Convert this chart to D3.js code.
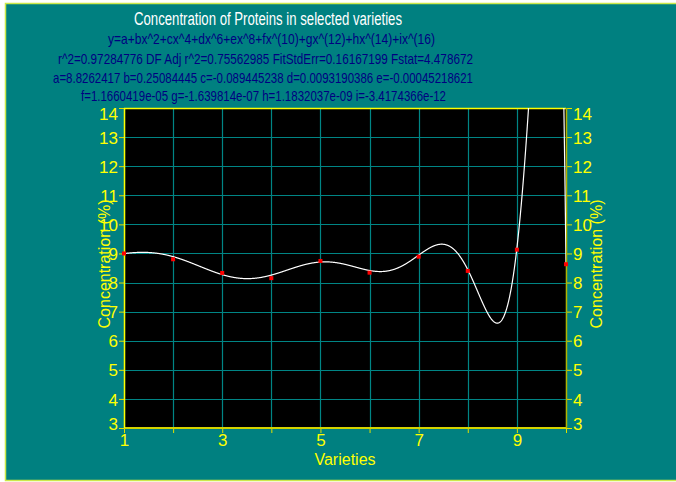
<!DOCTYPE html>
<html>
<head>
<meta charset="utf-8">
<script src="https://cdn.jsdelivr.net/npm/d3@7"></script>
<style>
  body { margin: 0; background: #ffffff; }
  svg text { font-family: "Liberation Sans", Arial, sans-serif; }
</style>
</head>
<body>
<div class="chart"></div>
<script>
// measured points (variety, protein %)
var varieties = [1, 2, 3, 4, 5, 6, 7, 8, 9, 10];
var protein = [9.0, 8.8, 8.33, 8.15, 8.74, 8.34, 8.89, 8.4, 9.13, 8.63];

// fit coefficients printed in the header: y = sum coef[k] * x^(2k)
var coefNames = ["a", "b", "c", "d", "e", "f", "g", "h", "i"];
var coefs = [8.8262417, 0.25084445, -0.089445238, 0.0093190386, -0.00045218621,
             1.1660419e-05, -1.639814e-07, 1.1832037e-09, -3.4174366e-12];

var xTicks = [1, 2, 3, 4, 5, 6, 7, 8, 9, 10];
var xLabels = [1, 3, 5, 7, 9];
var yTicks = [3, 4, 5, 6, 7, 8, 9, 10, 11, 12, 13, 14];

var titleText = "Concentration of Proteins in selected varieties";
var headerLines = [
    "y=a+bx^2+cx^4+dx^6+ex^8+fx^(10)+gx^(12)+hx^(14)+ix^(16)",
    "r^2=0.97284776  DF Adj r^2=0.75562985  FitStdErr=0.16167199  Fstat=4.478672",
    "a=8.8262417 b=0.25084445 c=-0.089445238 d=0.0093190386 e=-0.00045218621",
    "f=1.1660419e-05 g=-1.639814e-07 h=1.1832037e-09 i=-3.4174366e-12"
];

var W = 676, H = 482;
var margin = { top: 108, right: 110, bottom: 54, left: 124 };
var width = W - margin.left - margin.right;   // 442
var height = H - margin.top - margin.bottom;  // 320

var svg = d3.select(".chart").append("svg")
    .attr("width", W)
    .attr("height", H);

// teal frame
svg.append("rect")
    .attr("x", 5.5).attr("y", 3.5)
    .attr("width", W).attr("height", 477)
    .attr("fill", "#008080")
    .attr("stroke", "#cce84a")
    .attr("stroke-width", 1.5);

// header text (condensed look -> textLength)
svg.append("text")
    .attr("x", 134).attr("y", 25)
    .attr("textLength", 268).attr("lengthAdjust", "spacingAndGlyphs")
    .style("font-size", "18px").attr("fill", "#ffffff")
    .text(titleText);

var hdr = [
    { x: 108, w: 327, y: 44 },
    { x: 58, w: 415, y: 63.5 },
    { x: 53, w: 420, y: 82.5 },
    { x: 81, w: 365, y: 101 }
];
svg.selectAll(".hdr")
    .data(headerLines)
    .enter().append("text")
    .attr("class", "hdr")
    .attr("x", function (d, i) { return hdr[i].x; })
    .attr("y", function (d, i) { return hdr[i].y; })
    .attr("textLength", function (d, i) { return hdr[i].w; })
    .attr("lengthAdjust", "spacingAndGlyphs")
    .style("font-size", "15px")
    .attr("fill", "#000080")
    .text(function (d) { return d; });

var g = svg.append("g")
    .attr("transform", "translate(" + margin.left + "," + margin.top + ")");

var x = d3.scaleLinear().domain([1, 10]).range([0, width]);
var y = d3.scaleLinear().domain([3, 14]).range([height, 0]);

g.append("rect")
    .attr("width", width).attr("height", height)
    .attr("fill", "#000000");

g.append("clipPath").attr("id", "plotclip")
    .append("rect").attr("width", width).attr("height", height);

// grid
g.selectAll(".vgrid")
    .data(xTicks)
    .enter().append("line")
    .attr("x1", function (d) { return Math.round(x(d)) + 0.5; })
    .attr("x2", function (d) { return Math.round(x(d)) + 0.5; })
    .attr("y1", 0).attr("y2", height)
    .attr("stroke", "#008585").attr("stroke-width", 1.2);

g.selectAll(".hgrid")
    .data(yTicks)
    .enter().append("line")
    .attr("y1", function (d) { return Math.round(y(d)) + 0.5; })
    .attr("y2", function (d) { return Math.round(y(d)) + 0.5; })
    .attr("x1", 0).attr("x2", width)
    .attr("stroke", "#008585").attr("stroke-width", 1.2);

// axes
var xAxisCall = d3.axisBottom(x)
    .tickValues(xTicks)
    .tickSize(5)
    .tickPadding(2)
    .tickFormat(function (d) { return xLabels.indexOf(d) >= 0 ? d : ""; });

var xg = g.append("g")
    .attr("transform", "translate(0," + height + ")")
    .call(xAxisCall);

var yLeft = g.append("g").call(d3.axisLeft(y).tickValues(yTicks).tickSize(5).tickPadding(1));
var yRight = g.append("g")
    .attr("transform", "translate(" + width + ",0)")
    .call(d3.axisRight(y).tickValues(yTicks).tickSize(6).tickPadding(1));

[xg, yLeft, yRight].forEach(function (ax) {
    ax.select(".domain").remove();
    ax.selectAll("line").attr("stroke", "#e0e000");
    ax.selectAll("text")
        .attr("fill", "#ffff00")
        .style("font-size", "17px")
        .style("font-family", "'Liberation Sans', Arial, sans-serif");
});
// end labels are pulled inside the axis range, as in the original
[yLeft, yRight].forEach(function (ax) {
    ax.selectAll("text").attr("dy", function (d) {
        return d === 14 ? "0.66em" : (d === 3 ? "0.1em" : "0.36em");
    });
});
xg.selectAll("text").attr("dy", "0.62em");

// axis frame lines
g.append("line").attr("x1", 0).attr("x2", width).attr("y1", 0.5).attr("y2", 0.5)
    .attr("stroke", "#ffff00").attr("stroke-width", 1.5);
g.append("line").attr("x1", 0).attr("x2", width).attr("y1", height).attr("y2", height)
    .attr("stroke", "#d4d400").attr("stroke-width", 2);
g.append("line").attr("x1", 0.5).attr("x2", 0.5).attr("y1", 0).attr("y2", height)
    .attr("stroke", "#ffff00").attr("stroke-width", 1.5);
g.append("line").attr("x1", width + 0.5).attr("x2", width + 0.5).attr("y1", 0).attr("y2", height)
    .attr("stroke", "#b4b400").attr("stroke-width", 1.5);

// fitted curve from the printed coefficients
function fit(v) {
    var s = 0;
    for (var k = 0; k < coefs.length; k++) s += coefs[k] * Math.pow(v, 2 * k);
    return s;
}
var curveX = d3.range(1, 10.0001, 0.004);
var line = d3.line()
    .x(function (d) { return x(d); })
    .y(function (d) { return y(fit(d)); });

g.append("path")
    .datum(curveX)
    .attr("clip-path", "url(#plotclip)")
    .attr("fill", "none")
    .attr("stroke", "#ffffff")
    .attr("stroke-width", 1.2)
    .attr("d", line);

// data points
g.selectAll(".pt")
    .data(varieties)
    .enter().append("rect")
    .attr("x", function (d) { return x(d) - 2; })
    .attr("y", function (d, i) { return y(protein[i]) - 2; })
    .attr("width", 4).attr("height", 4)
    .attr("fill", "#ff0000");

// axis titles
svg.append("text")
    .attr("x", margin.left + width / 2).attr("y", 465)
    .attr("text-anchor", "middle")
    .style("font-size", "16px").attr("fill", "#ffff00")
    .text("Varieties");

svg.append("text")
    .attr("transform", "translate(110,264) rotate(-90)")
    .attr("text-anchor", "middle")
    .style("font-size", "16px").attr("fill", "#ffff00")
    .text("Concentration (%)");

svg.append("text")
    .attr("transform", "translate(602,264) rotate(-90)")
    .attr("text-anchor", "middle")
    .style("font-size", "16px").attr("fill", "#ffff00")
    .text("Concentration (%)");
</script>
</body>
</html>
